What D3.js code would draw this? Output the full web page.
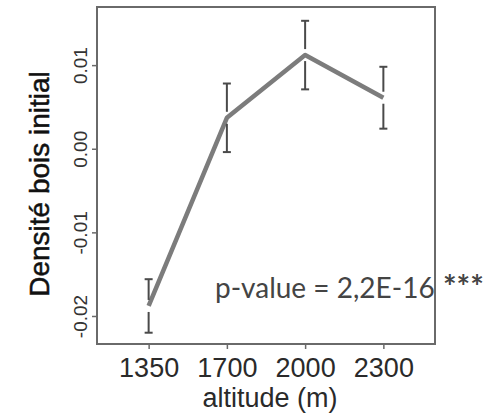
<!DOCTYPE html>
<html>
<head>
<meta charset="utf-8">
<script src="https://cdn.jsdelivr.net/npm/d3@7"></script>
<style>
  html, body { margin: 0; padding: 0; background: #fff; }
  svg { display: block; }
</style>
</head>
<body>
<svg id="chart" width="487" height="414"></svg>
<script>
// ---- data ----
const categories = ["1350", "1700", "2000", "2300"];
const means = [-0.0188, 0.0037, 0.0112, 0.0061];
const errors = [0.0032, 0.0041, 0.0041, 0.0037];
const yTicks = [-0.02, -0.01, 0.00, 0.01];
const yTickLabels = ["-0.02", "-0.01", "0.00", "0.01"];
const xTitle = "altitude (m)";
const yTitle = "Densité bois initial";
const annotation = "p-value = 2,2E-16";
const stars = "***";

// ---- layout ----
const svg = d3.select("#chart");
const plot = { left: 97, right: 435, top: 7, bottom: 344 };
const sans = "'Liberation Sans', Arial, Helvetica, sans-serif";
const calib = "Lato, 'Open Sans', sans-serif";

const x = d3.scaleLinear().domain([0.34, 4.66]).range([plot.left, plot.right]);
const y = d3.scaleLinear().domain([-0.02335, 0.01695]).range([plot.bottom, plot.top]);

const axisColor = "#6a6a6a";

// x axis
const xAxis = d3.axisBottom(x)
  .tickValues(categories.map((d, i) => i + 1))
  .tickFormat((d) => categories[d - 1])
  .tickSize(5).tickSizeOuter(0);
const gx = svg.append("g").attr("transform", `translate(0,${plot.bottom})`).call(xAxis);
gx.select(".domain").remove();
gx.selectAll(".tick line").attr("stroke", axisColor).attr("stroke-width", 1.5);
gx.selectAll(".tick text")
  .attr("font-family", sans)
  .attr("font-size", 27).attr("fill", "#2a2a2a")
  .attr("y", 33).attr("dy", null);

// y axis
const yAxis = d3.axisLeft(y)
  .tickValues(yTicks)
  .tickFormat((d, i) => yTickLabels[i])
  .tickSize(5).tickSizeOuter(0);
const gy = svg.append("g").attr("transform", `translate(${plot.left},0)`).call(yAxis);
gy.select(".domain").remove();
gy.selectAll(".tick line").attr("stroke", axisColor).attr("stroke-width", 1.5);
gy.selectAll(".tick text")
  .attr("font-family", sans)
  .attr("font-size", 19).attr("fill", "#333")
  .attr("text-anchor", "middle")
  .attr("dy", null)
  .attr("x", null)
  .attr("transform", "translate(-17,0) rotate(-90)")
  .attr("dominant-baseline", "central");

// frame
svg.append("rect")
  .attr("x", plot.left).attr("y", plot.top)
  .attr("width", plot.right - plot.left).attr("height", plot.bottom - plot.top)
  .attr("fill", "none").attr("stroke", axisColor).attr("stroke-width", 2);

// main line
const line = d3.line().x((d, i) => x(i + 1)).y((d) => y(d));
svg.append("path")
  .datum(means)
  .attr("d", line)
  .attr("fill", "none")
  .attr("stroke", "#7c7c7c")
  .attr("stroke-width", 4.5)
  .attr("stroke-linejoin", "round");

// error bars with a gap around the mean
const gap = 6, cap = 4;
const eb = svg.append("g").attr("stroke", "#4a4a4a").attr("stroke-width", 2).attr("fill", "none");
means.forEach((m, i) => {
  const cx = x(i + 1);
  const yTop = y(m + errors[i]);
  const yBot = y(m - errors[i]);
  const yMid = y(m);
  eb.append("line").attr("x1", cx).attr("x2", cx).attr("y1", yTop).attr("y2", yMid - gap);
  eb.append("line").attr("x1", cx).attr("x2", cx).attr("y1", yMid + gap).attr("y2", yBot);
  eb.append("line").attr("x1", cx - cap).attr("x2", cx + cap).attr("y1", yTop).attr("y2", yTop);
  eb.append("line").attr("x1", cx - cap).attr("x2", cx + cap).attr("y1", yBot).attr("y2", yBot);
});

// axis titles
svg.append("text")
  .attr("x", 270).attr("y", 407)
  .attr("text-anchor", "middle")
  .attr("font-family", sans)
  .attr("font-size", 27).attr("fill", "#2a2a2a")
  .text(xTitle);

svg.append("text")
  .attr("transform", `translate(49,184) rotate(-90)`)
  .attr("text-anchor", "middle")
  .attr("font-family", sans)
  .attr("font-size", 28).attr("fill", "#111")
  .attr("stroke", "#111").attr("stroke-width", 0.5)
  .text(yTitle);

// annotation
svg.append("text")
  .attr("x", 215).attr("y", 298)
  .attr("font-family", calib)
  .attr("font-size", 28).attr("fill", "#444")
  .text(annotation);
svg.append("text")
  .attr("x", 443).attr("y", 299)
  .attr("font-family", calib)
  .attr("font-size", 32).attr("font-weight", "bold").attr("fill", "#444")
  .text(stars);
</script>
</body>
</html>
